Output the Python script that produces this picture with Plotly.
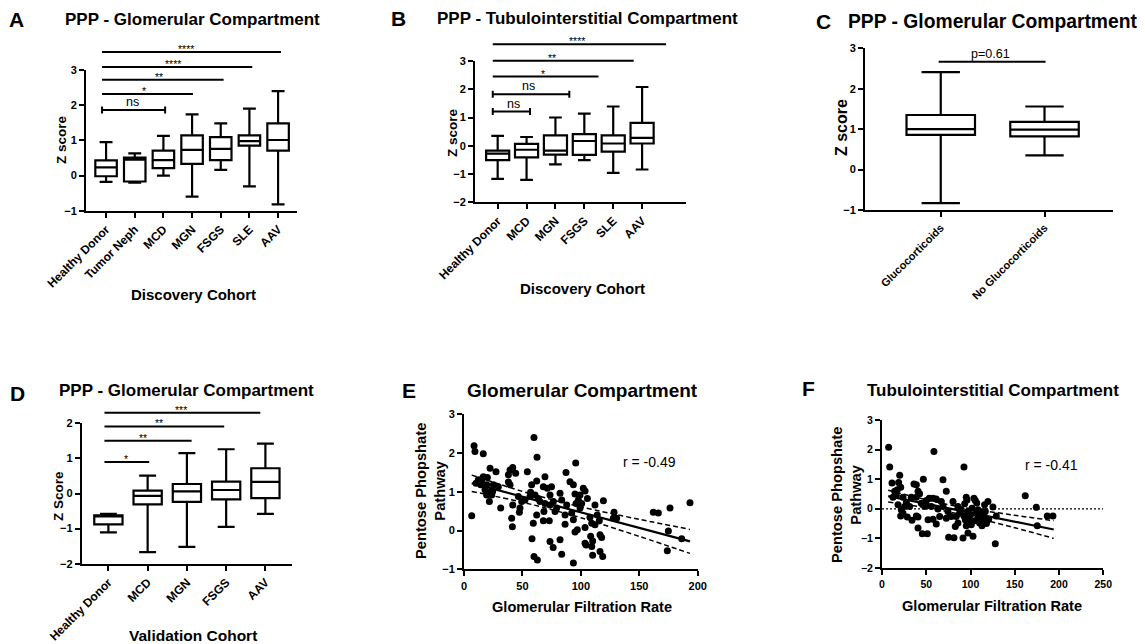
import plotly.graph_objects as go

# ---------------- DATA ----------------
a_cats = ["Healthy Donor", "Tumor Neph", "MCD", "MGN", "FSGS", "SLE", "AAV"]
a_low = [-0.18, -0.20, 0.00, -0.60, 0.16, -0.31, -0.82]
a_q1 = [-0.02, -0.17, 0.21, 0.33, 0.44, 0.85, 0.71]
a_med = [0.23, 0.45, 0.44, 0.73, 0.76, 0.98, 1.01]
a_q3 = [0.43, 0.51, 0.71, 1.14, 1.09, 1.14, 1.48]
a_high = [0.95, 0.63, 1.13, 1.74, 1.48, 1.90, 2.40]
# significance bars: (start idx, end idx, height, label, label idx)
a_sig = [(-0.14, 6.10, 3.51, "****", 2.79), (-0.14, 5.10, 3.085, "****", 2.33),
         (-0.14, 4.10, 2.72, "**", 1.86), (-0.14, 3.03, 2.32, "*", 1.33),
         (-0.14, 2.06, 1.86, "ns", 0.93)]

b_cats = ["Healthy Donor", "MCD", "MGN", "FSGS", "SLE", "AAV"]
b_low = [-1.17, -1.21, -0.66, -0.51, -0.96, -0.84]
b_q1 = [-0.51, -0.41, -0.31, -0.32, -0.21, 0.08]
b_med = [-0.28, -0.14, -0.17, 0.17, 0.08, 0.28]
b_q3 = [-0.17, 0.07, 0.37, 0.41, 0.37, 0.81]
b_high = [0.35, 0.31, 1.00, 1.14, 1.39, 2.08]
b_sig = [(-0.17, 5.83, 3.59, "****", 2.74), (-0.17, 4.71, 3.01, "**", 1.89),
         (-0.17, 3.49, 2.45, "*", 1.58), (-0.17, 2.48, 1.82, "ns", 1.06),
         (-0.17, 1.12, 1.21, "ns", 0.54)]

c_cats = ["Glucocorticoids", "No Glucocorticoids"]
c_low = [-0.83, 0.35]
c_q1 = [0.86, 0.82]
c_med = [1.00, 0.99]
c_q3 = [1.35, 1.18]
c_high = [2.41, 1.56]
c_sig = [(-0.02, 1.01, 2.67, "p=0.61", 0.48)]

d_cats = ["Healthy Donor", "MCD", "MGN", "FSGS", "AAV"]
d_low = [-1.11, -1.67, -1.52, -0.95, -0.58]
d_q1 = [-0.88, -0.31, -0.24, -0.17, -0.13]
d_med = [-0.65, -0.07, 0.06, 0.10, 0.33]
d_q3 = [-0.62, 0.08, 0.27, 0.34, 0.72]
d_high = [-0.58, 0.51, 1.15, 1.26, 1.42]
d_sig = [(-0.10, 3.87, 2.30, "***", 1.86), (-0.10, 2.95, 1.91, "**", 1.30),
         (-0.10, 2.12, 1.50, "**", 0.89), (-0.10, 1.04, 0.90, "*", 0.45)]

e_gfr = [8.6, 9.4, 16.5, 6.6, 22.3, 27.4, 16.5, 20.0, 12.3, 10.3,
         14.3, 18.0, 22.3, 19.4, 23.7, 21.7, 29.4, 31.4, 38.0, 39.4,
         41.7, 44.2, 38.0, 39.4, 41.7, 46.5, 47.9, 47.4, 40.8, 41.4,
         54.2, 59.9, 62.5, 57.9, 57.0, 60.8, 62.2, 69.3, 67.9, 65.0,
         63.6, 71.3, 74.9, 73.6, 69.3, 68.4, 67.9, 73.0, 62.2, 59.3,
         58.2, 59.9, 62.8, 73.6, 76.3, 82.2, 83.6, 82.2, 83.6, 79.3,
         87.3, 90.7, 93.6, 95.6, 95.0, 95.9, 87.9, 86.5, 86.5, 92.2,
         93.6, 97.9, 99.3, 102.1, 103.6, 105.6, 97.0, 95.0, 93.6, 103.6,
         103.6, 104.5, 108.4, 110.1, 109.3, 110.1, 112.1, 114.0, 115.8, 112.1,
         116.4, 117.8, 116.4, 118.7, 119.3, 128.4, 127.8, 130.6, 162.0, 166.3,
         176.3, 193.4, 174.9, 174.0, 186.3, 25.1, 19.4, 49.4, 52.2, 73.6,
         76.5, 77.9, 99.3, 100.7, 107.8, 109.3, 24.5, 15.1, 56.5]
e_ppp = [2.19, 2.04, 1.98, 0.38, 1.61, 1.52, 1.39, 1.37, 1.31, 1.22,
         1.18, 1.05, 0.99, 0.92, 0.92, 0.75, 1.13, 0.58, 1.44, 1.56,
         1.63, 1.48, 1.25, 1.18, 0.66, 0.88, 0.58, 0.47, 0.32, 0.10,
         1.52, 2.40, 1.89, 1.18, 0.99, 0.92, 1.28, 1.39, 1.13, 0.75,
         0.83, 1.09, 1.13, 0.92, 0.70, 0.49, 0.25, 0.25, 0.40, 0.19,
         -0.21, -0.67, -0.76, -0.28, -0.44, -0.24, -0.61, 0.96, 0.79, 0.58,
         1.50, 1.26, 1.18, 1.74, 0.94, 0.70, 0.66, 0.40, 0.16, 0.45,
         0.28, 0.79, 0.58, 1.09, 1.02, 0.83, 0.02, -0.04, -0.84, 0.08,
         -0.33, -0.37, -0.15, -0.27, -0.41, -0.64, 0.66, 0.40, 0.25, 0.15,
         -0.11, -0.18, -0.54, -0.67, 0.77, 0.47, 0.32, 0.32, 0.47, 0.45,
         0.58, 0.72, -0.01, -0.52, -0.21, 1.18, 1.18, 0.75, 0.79, 0.66,
         0.75, 0.49, 0.92, 0.70, 0.34, 0.19, 1.01, 1.28, 0.88]
e_fit_x = [6.6, 193.4]
e_fit_y = [1.22, -0.28]
e_ci_x = [6.6, 50, 75, 100, 150, 193.4]
e_ci_hi = [1.43, 1.01, 0.80, 0.61, 0.29, 0.03]
e_ci_lo = [1.01, 0.73, 0.54, 0.33, -0.15, -0.59]

f_gfr = [7.5, 8.7, 11.3, 20.0, 18.8, 21.1, 17.3, 16.2, 12.4, 23.7,
         18.1, 21.8, 21.1, 23.7, 31.2, 36.1, 38.8, 40.7, 42.5, 46.7,
         28.6, 33.9, 38.8, 40.7, 40.7, 45.5, 51.2, 44.4, 50.1, 53.3,
         58.7, 61.3, 57.6, 61.3, 68.9, 72.6, 67.0, 68.9, 74.5, 72.6,
         75.3, 81.3, 82.8, 80.2, 85.8, 87.6, 92.6, 95.2, 93.4, 97.1,
         92.6, 94.1, 95.2, 91.5, 97.1, 102.8, 103.9, 105.4, 101.6, 106.5,
         108.4, 110.3, 112.2, 115.2, 116.7, 115.9, 119.7, 112.9, 125.3, 128.0,
         129.1, 161.8, 174.3, 175.4, 186.7, 193.1, 25.6, 27.5, 14.3, 55.7,
         63.2, 65.1, 78.3, 83.9, 89.6, 99.0, 100.9, 108.4, 112.2, 117.8,
         48.2, 33.1, 38.8, 52.0, 57.6, 85.8, 100.0, 105.0, 110.0, 118.0,
         113.0, 120.5, 96.0, 107.0]
f_ppp = [2.08, 1.41, 0.87, 1.13, 0.89, 0.73, 0.64, 0.47, 0.39, 0.39,
         0.14, -0.03, -0.24, -0.15, 0.08, 0.84, 0.81, 0.59, 0.51, 1.00,
         -0.28, -0.39, -0.24, -0.28, -0.65, -0.84, -0.84, 0.19, 0.28, 0.36,
         1.94, 0.33, -0.35, -0.51, 0.98, 0.59, 0.25, 0.08, -0.09, -0.32,
         -0.96, -0.98, -0.60, 0.25, 0.08, -0.15, 1.41, 0.39, 0.17, -0.09,
         -0.24, -0.37, -0.57, -0.99, -0.82, -0.93, 0.36, 0.28, 0.02, -0.15,
         -0.32, -0.48, -0.37, -0.26, -0.09, 0.14, 0.25, -0.57, 0.06, -1.18,
         -0.24, 0.44, 0.05, -0.57, -0.24, -0.24, 0.08, 0.21, 0.59, 0.08,
         -0.01, -0.26, -0.26, -0.26, -0.03, -0.37, -0.54, -0.03, -0.17, -0.43,
         0.08, 0.39, 0.39, -0.37, 0.36, -0.48, -0.20, -0.40, -0.30, -0.50,
         -0.10, -0.35, 0.30, 0.20]
f_fit_x = [7, 194]
f_fit_y = [0.43, -0.70]
f_ci_x = [7, 50, 75, 100, 150, 194]
f_ci_hi = [0.63, 0.305, 0.14, 0.005, -0.22, -0.40]
f_ci_lo = [0.23, 0.035, -0.10, -0.265, -0.64, -1.00]

# ---------------- LAYOUT HELPERS ----------------
W, H = 1145, 644
FONT = "Liberation Sans, Arial, sans-serif"
BLACK = "#000000"


def fx(px):
    return px / W


def fy(py):
    return 1 - py / H


fig = go.Figure()
layout = dict(width=W, height=H, margin=dict(l=0, r=0, t=0, b=0), autosize=False,
              template="none", paper_bgcolor="white", plot_bgcolor="rgba(0,0,0,0)",
              showlegend=False, font=dict(family=FONT, color=BLACK))
annotations = []


def axis_common(tfs):
    return dict(showline=True, linecolor=BLACK, linewidth=2, ticks="outside", ticklen=5,
                tickwidth=2, tickcolor=BLACK, showgrid=False, zeroline=False,
                automargin=False, fixedrange=True,
                tickfont=dict(family=FONT, size=tfs, color=BLACK, weight="bold"))


def box_panel(n, aux, xpx, ypx, xrange, yrange, cats, low, q1, med, q3, high,
              width, wwidth, sig, aux_top=None, xtfs=12, ytfs=11, capped=("ns",),
              sigfs=10.5):
    sx = "" if n == 1 else str(n)
    pos = list(range(len(cats)))
    xa = axis_common(xtfs)
    xa.update(domain=[fx(xpx[0]), fx(xpx[1])], range=xrange, anchor="y" + sx,
              tickmode="array", tickvals=pos, ticktext=cats, tickangle=-45)
    ya = axis_common(ytfs)
    ya.update(domain=[fy(ypx[1]), fy(ypx[0])], range=yrange, anchor="x" + sx,
              tickmode="array", tickvals=list(range(int(yrange[0]), int(yrange[1]) + 1)))
    layout["xaxis" + sx] = xa
    layout["yaxis" + sx] = ya
    fig.add_trace(go.Box(x=pos, q1=q1, median=med, q3=q3, lowerfence=low, upperfence=high,
                         width=width, whiskerwidth=wwidth, fillcolor="white",
                         line=dict(color=BLACK, width=2.2), boxpoints=False,
                         xaxis="x" + sx, yaxis="y" + sx, hoverinfo="skip"))
    # significance bars
    ppu = (ypx[1] - ypx[0]) / (yrange[1] - yrange[0])
    if aux is not None:
        ys = "y" + str(aux)
        top = aux_top
        layout["yaxis" + str(aux)] = dict(domain=[fy(ypx[1]), fy(top)],
                                          range=[yrange[0], yrange[0] + (ypx[1] - top) / ppu],
                                          anchor="x" + sx, visible=False, fixedrange=True)
    else:
        ys = "y" + sx
    lx, ly = [], []
    for x0, x1, yv, lab, tx in sig:
        lx += [x0, x1, None]
        ly += [yv, yv, None]
        if lab in capped:
            d = 3.5 / ppu
            lx += [x0, x0, None, x1, x1, None]
            ly += [yv - d, yv + d, None, yv - d, yv + d, None]
        is_star = lab.startswith("*")
        annotations.append(dict(x=tx, y=yv, xref="x" + sx, yref=ys, text=lab, showarrow=False,
                                xanchor="center", yanchor="middle",
                                yshift=3 if is_star else 8,
                                font=dict(family=FONT, size=sigfs if is_star else 12.5,
                                          color=BLACK)))
    fig.add_trace(go.Scatter(x=lx, y=ly, mode="lines", line=dict(color=BLACK, width=2),
                             xaxis="x" + sx, yaxis=ys, hoverinfo="skip", connectgaps=False))


def scatter_panel(n, xpx, ypx, xrange, yrange, xticks, gfr, ppp, fitx, fity, cix, cihi, cilo,
                  rtext, rpos, zero_line=False, tfs=11):
    sx = str(n)
    xa = axis_common(tfs)
    xa.update(domain=[fx(xpx[0]), fx(xpx[1])], range=xrange, anchor="y" + sx,
              tickmode="array", tickvals=xticks)
    ya = axis_common(tfs)
    ya.update(domain=[fy(ypx[1]), fy(ypx[0])], range=yrange, anchor="x" + sx,
              tickmode="array", tickvals=list(range(int(yrange[0]), int(yrange[1]) + 1)))
    layout["xaxis" + sx] = xa
    layout["yaxis" + sx] = ya
    if zero_line:
        fig.add_trace(go.Scatter(x=list(xrange), y=[0, 0], mode="lines",
                                 line=dict(color=BLACK, width=1.2, dash="2px,2px"),
                                 xaxis="x" + sx, yaxis="y" + sx, hoverinfo="skip"))
    fig.add_trace(go.Scatter(x=gfr, y=ppp, mode="markers",
                             marker=dict(color=BLACK, size=7, line=dict(width=0)),
                             xaxis="x" + sx, yaxis="y" + sx, hoverinfo="skip", cliponaxis=False))
    for arr in (cihi, cilo):
        fig.add_trace(go.Scatter(x=cix, y=arr, mode="lines", line_shape="spline",
                                 line=dict(color=BLACK, width=1.5, dash="5px,3px"),
                                 xaxis="x" + sx, yaxis="y" + sx, hoverinfo="skip"))
    fig.add_trace(go.Scatter(x=fitx, y=fity, mode="lines", line=dict(color=BLACK, width=2.2),
                             xaxis="x" + sx, yaxis="y" + sx, hoverinfo="skip"))
    annotations.append(dict(x=rpos[0], y=rpos[1], xref="x" + sx, yref="y" + sx, text=rtext,
                            showarrow=False, xanchor="center", yanchor="middle",
                            font=dict(family=FONT, size=14, color=BLACK)))


# Panel A
box_panel(1, 7, (86, 297), (70, 210.7), [-0.70, 6.66], [-1, 3], a_cats,
          a_low, a_q1, a_med, a_q3, a_high, 0.75, 0.6, a_sig, aux_top=38)
# Panel B
box_panel(2, 8, (475, 686), (61, 202.3), [-0.785, 6.52], [-2, 3], b_cats,
          b_low, b_q1, b_med, b_q3, b_high, 0.8, 0.55, b_sig, aux_top=35)
# Panel C
box_panel(3, None, (865, 1113), (48.3, 210), [-0.73, 1.66], [-1, 3], c_cats,
          c_low, c_q1, c_med, c_q3, c_high, 0.66, 0.56, c_sig, xtfs=11, ytfs=11)
# Panel D
box_panel(4, 9, (81.7, 291.7), (423.3, 563.7), [-0.68, 4.67], [-2, 2], d_cats,
          d_low, d_q1, d_med, d_q3, d_high, 0.72, 0.6, d_sig, aux_top=405)
# Panel E
scatter_panel(5, (464, 697.7), (414.3, 569.3), [0, 200], [-1, 3], [0, 50, 100, 150, 200],
              e_gfr, e_ppp, e_fit_x, e_fit_y, e_ci_x, e_ci_hi, e_ci_lo,
              "r = -0.49", (159, 1.78))
# Panel F
scatter_panel(6, (882, 1103.3), (420, 568), [0, 250], [-2, 3], [0, 50, 100, 150, 200, 250],
              f_gfr, f_ppp, f_fit_x, f_fit_y, f_ci_x, f_ci_hi, f_ci_lo,
              "r = -0.41", (191.7, 1.49), zero_line=True, tfs=10.5)


def label(text, px, py, size, bold=True, angle=0):
    annotations.append(dict(x=fx(px), y=fy(py), xref="paper", yref="paper", text=text,
                            showarrow=False, xanchor="center", yanchor="middle", textangle=angle,
                            font=dict(family=FONT, size=size, color=BLACK,
                                      weight="bold" if bold else "normal")))


# panel letters
for t, px, py in [("A", 16, 20), ("B", 398, 19), ("C", 823, 21), ("D", 17, 393),
                  ("E", 409, 390), ("F", 808, 388)]:
    label(t, px, py, 21)
# titles
label("PPP - Glomerular Compartment", 192, 20, 17)
label("PPP - Tubulointerstitial Compartment", 587, 19, 17)
label("PPP - Glomerular Compartment", 993, 21, 19.3)
label("PPP - Glomerular Compartment", 187, 391, 17)
label("Glomerular Compartment", 582, 391, 19)
label("Tubulointerstitial Compartment", 993, 390, 17)
# axis titles
label("Z score", 62, 140, 13.5, angle=-90)
label("Discovery Cohort", 193, 294, 15)
label("Z score", 452, 133, 13.5, angle=-90)
label("Discovery Cohort", 582, 288, 15)
label("Z score", 842, 128, 16, angle=-90)
label("Z Score", 58, 496, 13.5, angle=-90)
label("Validation Cohort", 193, 635, 15.5)
label("Pentose Phopshate<br>Pathway", 430, 491, 14.7, angle=-90)
label("Glomerular Filtration Rate", 582, 607, 14.6)
label("Pentose Phopshate<br>Pathway", 846, 495, 14.7, angle=-90)
label("Glomerular Filtration Rate", 992, 606, 14.6)

layout["annotations"] = annotations
fig.update_layout(**layout)
fig.write_html("out.html", config={"displayModeBar": False, "staticPlot": True},
               post_script="document.body.style.margin='0';document.body.style.padding='0';"
                           "document.body.style.overflow='hidden';")
